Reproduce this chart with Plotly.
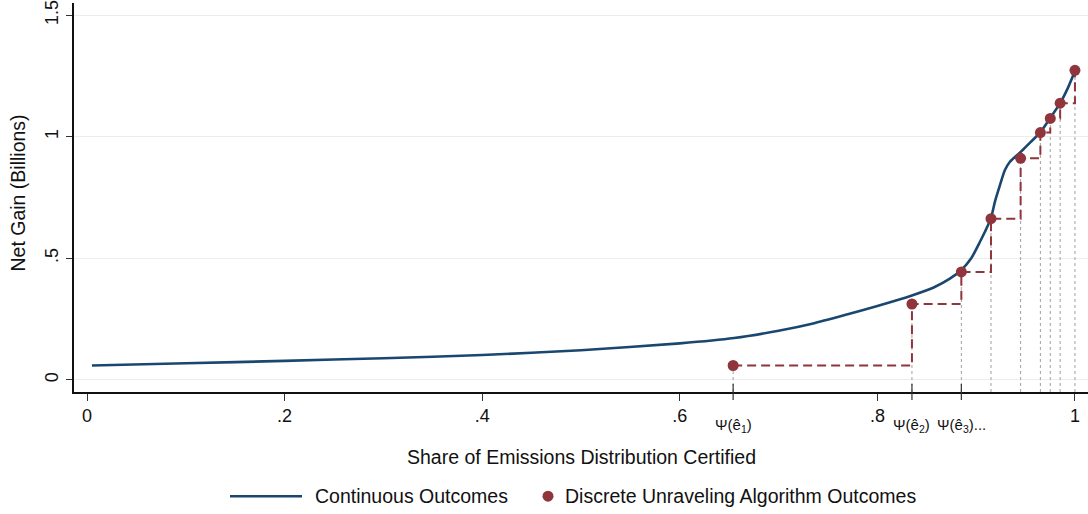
import plotly.graph_objects as go

# Continuous outcomes curve
cont_x = [0.005, 0.1, 0.2, 0.3, 0.4, 0.5, 0.6, 0.655, 0.70, 0.735, 0.77, 0.80, 0.823, 0.835,
          0.857, 0.873, 0.885, 0.895, 0.904, 0.909, 0.915, 0.919, 0.924, 0.929, 0.934, 0.945,
          0.955, 0.965, 0.975, 0.985, 0.993, 1.0]
cont_y = [0.059, 0.068, 0.078, 0.089, 0.102, 0.122, 0.150, 0.172, 0.202, 0.232, 0.270, 0.304,
          0.331, 0.347, 0.380, 0.415, 0.452, 0.500, 0.569, 0.610, 0.665, 0.733, 0.800, 0.862,
          0.896, 0.937, 0.978, 1.018, 1.077, 1.138, 1.202, 1.27]

# Discrete unraveling algorithm outcomes
disc_x = [0.654, 0.835, 0.885, 0.915, 0.945, 0.965, 0.975, 0.985, 1.0]
disc_y = [0.059, 0.312, 0.444, 0.663, 0.911, 1.017, 1.075, 1.138, 1.273]

x_ticks = [0, 0.2, 0.4, 0.6, 0.8, 1]
x_ticktext = ["0", ".2", ".4", ".6", ".8", "1"]
y_ticks = [0, 0.5, 1, 1.5]
y_ticktext = ["0", ".5", "1", "1.5"]
psi_labels = ["Ψ(ê<sub>1</sub>)", "Ψ(ê<sub>2</sub>)", "Ψ(ê<sub>3</sub>)..."]

NAVY = "#1a476f"
MAROON = "#90353b"
Y_MIN, Y_MAX = -0.05, 1.55
FONT = "Liberation Sans"
TXT = "#111111"

fig = go.Figure()

# dotted vertical guides from axis to each discrete point
gx, gy = [], []
for xv, yv in zip(disc_x, disc_y):
    gx += [xv, xv, None]
    gy += [Y_MIN, yv, None]
fig.add_trace(go.Scatter(x=gx, y=gy, mode="lines", showlegend=False, hoverinfo="skip",
                         line=dict(color="#a0a0a0", width=1, dash="dot")))

# continuous curve
fig.add_trace(go.Scatter(x=cont_x, y=cont_y, mode="lines", name="Continuous Outcomes",
                         showlegend=False,
                         line=dict(color=NAVY, width=2.6, shape="spline", smoothing=0.6)))

# dashed step path
fig.add_trace(go.Scatter(x=disc_x, y=disc_y, mode="lines", showlegend=False, hoverinfo="skip",
                         line=dict(color=MAROON, width=2, dash="9px,5px", shape="hv")))

# discrete points
fig.add_trace(go.Scatter(x=disc_x, y=disc_y, mode="markers",
                         name="Discrete Unraveling Algorithm Outcomes", showlegend=False,
                         marker=dict(color=MAROON, size=11)))

shapes = []
annotations = []
PLOT_H = 392.0
PLOT_W = 1014.0
# Psi ticks crossing the axis
for xv, lab in zip(disc_x[:3], psi_labels):
    shapes.append(dict(type="line", xref="x", yref="paper", x0=xv, x1=xv,
                       y0=8 / PLOT_H, y1=-8 / PLOT_H, line=dict(color="#333333", width=1.2)))
    annotations.append(dict(x=xv, xref="x", y=-34 / PLOT_H, yref="paper", text=lab,
                            showarrow=False, xanchor="center", yanchor="middle",
                            font=dict(size=15, color=TXT, family=FONT)))

# axis titles
annotations.append(dict(x=(581 - 74) / PLOT_W, xref="paper", y=-65 / PLOT_H, yref="paper",
                        text="Share of Emissions Distribution Certified", showarrow=False,
                        xanchor="center", yanchor="middle",
                        font=dict(size=19.5, color=TXT, family=FONT)))
annotations.append(dict(x=(18 - 74) / PLOT_W, xref="paper", y=(392 - 192) / PLOT_H, yref="paper",
                        text="Net Gain (Billions)", showarrow=False, textangle=-90,
                        xanchor="center", yanchor="middle",
                        font=dict(size=19.5, color=TXT, family=FONT)))

# custom legend
LEG_Y = -105 / PLOT_H
def px_to_paper_x(px):
    return (px - 74) / PLOT_W
shapes.append(dict(type="line", xref="paper", yref="paper",
                   x0=px_to_paper_x(230), x1=px_to_paper_x(302), y0=LEG_Y, y1=LEG_Y,
                   line=dict(color=NAVY, width=2.6)))
annotations.append(dict(x=px_to_paper_x(313), xref="paper", y=LEG_Y, yref="paper",
                        text="Continuous Outcomes", showarrow=False, xanchor="left",
                        yanchor="middle",
                        font=dict(size=19.5, color=TXT, family=FONT)))
shapes.append(dict(type="circle", xref="paper", yref="paper",
                   x0=px_to_paper_x(542.5), x1=px_to_paper_x(553.5),
                   y0=LEG_Y - 5.5 / PLOT_H, y1=LEG_Y + 5.5 / PLOT_H,
                   fillcolor=MAROON, line=dict(width=0)))
annotations.append(dict(x=px_to_paper_x(563), xref="paper", y=LEG_Y, yref="paper",
                        text="Discrete Unraveling Algorithm Outcomes", showarrow=False,
                        xanchor="left", yanchor="middle",
                        font=dict(size=19.5, color=TXT, family=FONT)))

fig.update_layout(
    width=1088, height=514,
    margin=dict(l=74, r=0, t=0, b=122),
    paper_bgcolor="white", plot_bgcolor="white",
    font=dict(family=FONT, size=18, color=TXT),
    shapes=shapes, annotations=annotations,
    showlegend=False,
    xaxis=dict(range=[-0.0132, 1.0132], tickvals=x_ticks, ticktext=x_ticktext,
               ticks="outside", ticklen=7, tickwidth=1.2, tickcolor="#333333",
               showgrid=False, zeroline=False, showline=True, linecolor="#111111",
               linewidth=1.5, tickfont=dict(size=18), ticklabeloverflow="allow"),
    yaxis=dict(range=[Y_MIN, Y_MAX], tickvals=y_ticks, ticktext=y_ticktext,
               ticks="outside", ticklen=6, tickwidth=1.2, tickcolor="#333333",
               tickangle=-90, showgrid=True, gridcolor="#ececec", gridwidth=1,
               zeroline=False, showline=True, linecolor="#111111", linewidth=1.5,
               tickfont=dict(size=18), ticklabeloverflow="allow", ticklabelstandoff=1),
)

fig.write_html("out.html")
